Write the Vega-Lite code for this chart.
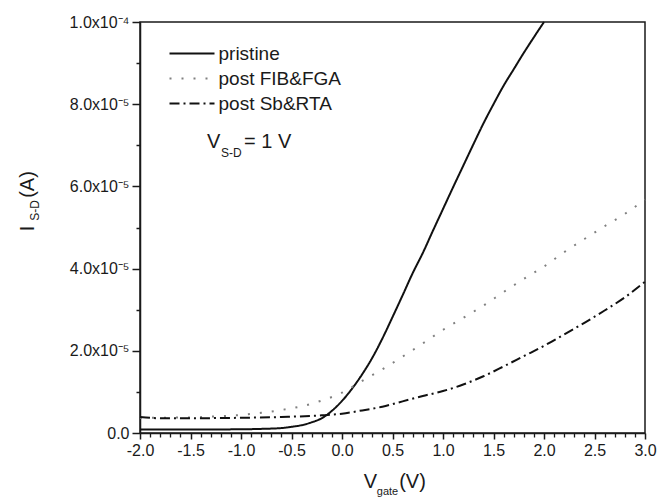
{
  "$schema": "https://vega.github.io/schema/vega-lite/v6.json",
  "width": 505,
  "height": 411,
  "autosize": {"type": "none"},
  "padding": {"left": 140, "top": 22, "right": 12, "bottom": 64},
  "config": {
    "font": "Liberation Sans",
    "view": {"stroke": "#1a1a1a", "strokeWidth": 1.5},
    "axis": {
      "grid": false,
      "domainColor": "#1a1a1a",
      "domainWidth": 1.5,
      "labelColor": "#1a1a1a",
      "titleColor": "#1a1a1a",
      "labelFont": "Liberation Sans",
      "titleFont": "Liberation Sans",
      "titleFontWeight": "normal",
      "labelOverlap": false,
      "labelFlush": false
    },
    "text": {"font": "Liberation Sans", "color": "#1a1a1a"}
  },
  "layer": [
    {
      "data": {
        "values": [
          {"series": "pristine", "V": -2.0, "I": 8.5e-7},
          {"series": "pristine", "V": -1.5, "I": 8.5e-7},
          {"series": "pristine", "V": -1.0, "I": 9.0e-7},
          {"series": "pristine", "V": -0.8, "I": 1.0e-6},
          {"series": "pristine", "V": -0.6, "I": 1.2e-6},
          {"series": "pristine", "V": -0.5, "I": 1.5e-6},
          {"series": "pristine", "V": -0.4, "I": 1.9e-6},
          {"series": "pristine", "V": -0.3, "I": 2.6e-6},
          {"series": "pristine", "V": -0.2, "I": 3.6e-6},
          {"series": "pristine", "V": -0.1, "I": 5.4e-6},
          {"series": "pristine", "V": 0.0, "I": 7.8e-6},
          {"series": "pristine", "V": 0.1, "I": 1.08e-5},
          {"series": "pristine", "V": 0.2, "I": 1.43e-5},
          {"series": "pristine", "V": 0.3, "I": 1.83e-5},
          {"series": "pristine", "V": 0.4, "I": 2.3e-5},
          {"series": "pristine", "V": 0.5, "I": 2.82e-5},
          {"series": "pristine", "V": 0.6, "I": 3.35e-5},
          {"series": "pristine", "V": 0.7, "I": 3.89e-5},
          {"series": "pristine", "V": 0.8, "I": 4.38e-5},
          {"series": "pristine", "V": 0.9, "I": 4.92e-5},
          {"series": "pristine", "V": 1.0, "I": 5.45e-5},
          {"series": "pristine", "V": 1.1, "I": 5.98e-5},
          {"series": "pristine", "V": 1.2, "I": 6.5e-5},
          {"series": "pristine", "V": 1.3, "I": 7.02e-5},
          {"series": "pristine", "V": 1.4, "I": 7.53e-5},
          {"series": "pristine", "V": 1.5, "I": 8.0e-5},
          {"series": "pristine", "V": 1.6, "I": 8.45e-5},
          {"series": "pristine", "V": 1.7, "I": 8.85e-5},
          {"series": "pristine", "V": 1.8, "I": 9.25e-5},
          {"series": "pristine", "V": 1.9, "I": 9.63e-5},
          {"series": "pristine", "V": 2.0, "I": 1.0e-4},
          {"series": "post FIB&FGA", "V": -2.0, "I": 3.7e-6},
          {"series": "post FIB&FGA", "V": -1.5, "I": 3.8e-6},
          {"series": "post FIB&FGA", "V": -1.2, "I": 4.1e-6},
          {"series": "post FIB&FGA", "V": -1.0, "I": 4.4e-6},
          {"series": "post FIB&FGA", "V": -0.8, "I": 4.9e-6},
          {"series": "post FIB&FGA", "V": -0.6, "I": 5.6e-6},
          {"series": "post FIB&FGA", "V": -0.4, "I": 6.5e-6},
          {"series": "post FIB&FGA", "V": -0.2, "I": 7.9e-6},
          {"series": "post FIB&FGA", "V": 0.0, "I": 9.8e-6},
          {"series": "post FIB&FGA", "V": 0.2, "I": 1.27e-5},
          {"series": "post FIB&FGA", "V": 0.4, "I": 1.55e-5},
          {"series": "post FIB&FGA", "V": 0.6, "I": 1.86e-5},
          {"series": "post FIB&FGA", "V": 0.8, "I": 2.18e-5},
          {"series": "post FIB&FGA", "V": 1.0, "I": 2.51e-5},
          {"series": "post FIB&FGA", "V": 1.2, "I": 2.8e-5},
          {"series": "post FIB&FGA", "V": 1.4, "I": 3.1e-5},
          {"series": "post FIB&FGA", "V": 1.6, "I": 3.43e-5},
          {"series": "post FIB&FGA", "V": 1.8, "I": 3.75e-5},
          {"series": "post FIB&FGA", "V": 2.0, "I": 4.05e-5},
          {"series": "post FIB&FGA", "V": 2.2, "I": 4.4e-5},
          {"series": "post FIB&FGA", "V": 2.4, "I": 4.72e-5},
          {"series": "post FIB&FGA", "V": 2.6, "I": 5.03e-5},
          {"series": "post FIB&FGA", "V": 2.8, "I": 5.33e-5},
          {"series": "post FIB&FGA", "V": 3.0, "I": 5.68e-5},
          {"series": "post Sb&RTA", "V": -2.0, "I": 3.9e-6},
          {"series": "post Sb&RTA", "V": -1.8, "I": 3.6e-6},
          {"series": "post Sb&RTA", "V": -1.5, "I": 3.6e-6},
          {"series": "post Sb&RTA", "V": -1.0, "I": 3.7e-6},
          {"series": "post Sb&RTA", "V": -0.6, "I": 3.9e-6},
          {"series": "post Sb&RTA", "V": -0.2, "I": 4.3e-6},
          {"series": "post Sb&RTA", "V": 0.0, "I": 4.7e-6},
          {"series": "post Sb&RTA", "V": 0.2, "I": 5.5e-6},
          {"series": "post Sb&RTA", "V": 0.4, "I": 6.4e-6},
          {"series": "post Sb&RTA", "V": 0.6, "I": 7.7e-6},
          {"series": "post Sb&RTA", "V": 0.8, "I": 9.0e-6},
          {"series": "post Sb&RTA", "V": 1.0, "I": 1.02e-5},
          {"series": "post Sb&RTA", "V": 1.2, "I": 1.18e-5},
          {"series": "post Sb&RTA", "V": 1.4, "I": 1.38e-5},
          {"series": "post Sb&RTA", "V": 1.6, "I": 1.62e-5},
          {"series": "post Sb&RTA", "V": 1.8, "I": 1.87e-5},
          {"series": "post Sb&RTA", "V": 2.0, "I": 2.12e-5},
          {"series": "post Sb&RTA", "V": 2.2, "I": 2.4e-5},
          {"series": "post Sb&RTA", "V": 2.4, "I": 2.68e-5},
          {"series": "post Sb&RTA", "V": 2.6, "I": 2.98e-5},
          {"series": "post Sb&RTA", "V": 2.8, "I": 3.3e-5},
          {"series": "post Sb&RTA", "V": 3.0, "I": 3.68e-5}
        ]
      },
      "mark": {"type": "line", "interpolate": "monotone"},
      "encoding": {
        "x": {
          "field": "V", "type": "quantitative",
          "scale": {"domain": [-2, 3], "nice": false, "zero": false},
          "axis": {
            "orient": "bottom",
            "values": [-2, -1.5, -1, -0.5, 0, 0.5, 1, 1.5, 2, 2.5, 3],
            "labelExpr": "datum.value < 0 ? '-' + format(-datum.value, '.1f') : format(datum.value, '.1f')",
            "ticks": true,
            "tickColor": "#1a1a1a",
            "tickSize": 6,
            "tickWidth": 1.5,
            "labelFontSize": 16,
            "labelPadding": 3,
            "title": "V",
            "titleFontSize": 20,
            "titleX": 230,
            "titleY": 54,
            "titleBaseline": "alphabetic"
          }
        },
        "y": {
          "field": "I", "type": "quantitative",
          "scale": {"domain": [0, 0.0001], "nice": false, "zero": false},
          "axis": {
            "orient": "left",
            "values": [0, 0.00002, 0.00004, 0.00006, 0.00008, 0.0001],
            "labelExpr": "datum.value == 0 ? '0.0' : round(datum.value*1e5) == 10 ? '1.0x10⁻⁴' : format(datum.value*1e5, '.1f') + 'x10⁻⁵'",
            "ticks": true,
            "tickColor": "#1a1a1a",
            "tickSize": 8,
            "tickWidth": 1.5,
            "labelFontSize": 16,
            "labelPadding": 3,
            "title": "I",
            "titleFontSize": 20,
            "titleX": -107,
            "titleY": 206,
            "titleBaseline": "alphabetic"
          }
        },
        "color": {
          "field": "series", "type": "nominal",
          "scale": {"domain": ["pristine", "post FIB&FGA", "post Sb&RTA"], "range": ["#111111", "#808080", "#111111"]},
          "legend": {"title": null, "orient": "none", "legendX": 42.5, "legendY": 22, "symbolType": "M-4.5,0L4.5,0", "symbolSize": 100, "labelFontSize": 19, "labelOffset": 17, "rowPadding": 5, "padding": 0, "labelColor": "#1a1a1a"}
        },
        "strokeDash": {
          "field": "series", "type": "nominal",
          "scale": {"domain": ["pristine", "post FIB&FGA", "post Sb&RTA"], "range": [[1, 0], [2, 10], [10, 4, 2, 4]]},
          "legend": {"title": null, "orient": "none", "legendX": 42.5, "legendY": 22, "symbolType": "M-4.5,0L4.5,0", "symbolSize": 100, "labelFontSize": 19, "labelOffset": 17, "rowPadding": 5, "padding": 0, "labelColor": "#1a1a1a"}
        },
        "strokeWidth": {
          "field": "series", "type": "nominal",
          "scale": {"domain": ["pristine", "post FIB&FGA", "post Sb&RTA"], "range": [2, 2, 2.5]},
          "legend": {"title": null, "orient": "none", "legendX": 42.5, "legendY": 22, "symbolType": "M-4.5,0L4.5,0", "symbolSize": 100, "labelFontSize": 19, "labelOffset": 17, "rowPadding": 5, "padding": 0, "labelColor": "#1a1a1a"}
        }
      }
    },
    {
      "data": {"values": [{}]},
      "mark": {"type": "text", "text": "V", "fontSize": 20, "align": "left", "baseline": "alphabetic"},
      "encoding": {
        "x": {
          "datum": -1.337, "type": "quantitative",
          "scale": {"domain": [-2, 3], "nice": false, "zero": false},
          "axis": {
            "orient": "bottom", "domain": false, "labels": false,
            "ticks": true, "tickColor": "#1a1a1a", "tickSize": 4, "tickWidth": 1.3,
            "values": [-1.9,-1.8,-1.7,-1.6,-1.4,-1.3,-1.2,-1.1,-0.9,-0.8,-0.7,-0.6,-0.4,-0.3,-0.2,-0.1,0.1,0.2,0.3,0.4,0.6,0.7,0.8,0.9,1.1,1.2,1.3,1.4,1.6,1.7,1.8,1.9,2.1,2.2,2.3,2.4,2.6,2.7,2.8,2.9],
            "title": "gate", "titleFontSize": 11, "titleX": 247, "titleY": 61, "titleBaseline": "alphabetic"
          }
        },
        "y": {
          "datum": 0.0000693, "type": "quantitative",
          "scale": {"domain": [0, 0.0001], "nice": false, "zero": false},
          "axis": {
            "orient": "left", "domain": false, "labels": false,
            "ticks": true, "tickColor": "#1a1a1a", "tickSize": 4, "tickWidth": 1.5,
            "values": [0.00001, 0.00003, 0.00005, 0.00007, 0.00009],
            "title": "S-D", "titleFontSize": 12, "titleX": -102, "titleY": 188, "titleBaseline": "alphabetic"
          }
        }
      }
    },
    {
      "data": {"values": [{}]},
      "mark": {"type": "text", "text": "S-D", "fontSize": 12, "align": "left", "baseline": "alphabetic"},
      "encoding": {
        "x": {
          "datum": -1.198, "type": "quantitative",
          "scale": {"domain": [-2, 3], "nice": false, "zero": false},
          "axis": {"orient": "bottom", "domain": false, "ticks": false, "labels": false, "title": "(V)", "titleFontSize": 20, "titleX": 272, "titleY": 54, "titleBaseline": "alphabetic"}
        },
        "y": {
          "datum": 0.00006715, "type": "quantitative",
          "scale": {"domain": [0, 0.0001], "nice": false, "zero": false},
          "axis": {"orient": "left", "domain": false, "ticks": false, "labels": false, "title": "(A)", "titleFontSize": 20, "titleX": -107, "titleY": 162, "titleBaseline": "alphabetic"}
        }
      }
    },
    {
      "data": {"values": [{}]},
      "mark": {"type": "text", "text": "= 1 V", "fontSize": 20, "align": "left", "baseline": "alphabetic"},
      "encoding": {
        "x": {"datum": -0.97, "type": "quantitative", "scale": {"domain": [-2, 3], "nice": false, "zero": false}, "axis": null},
        "y": {"datum": 0.0000693, "type": "quantitative", "scale": {"domain": [0, 0.0001], "nice": false, "zero": false}, "axis": null}
      }
    }
  ],
  "resolve": {"axis": {"x": "independent", "y": "independent"}}
}
